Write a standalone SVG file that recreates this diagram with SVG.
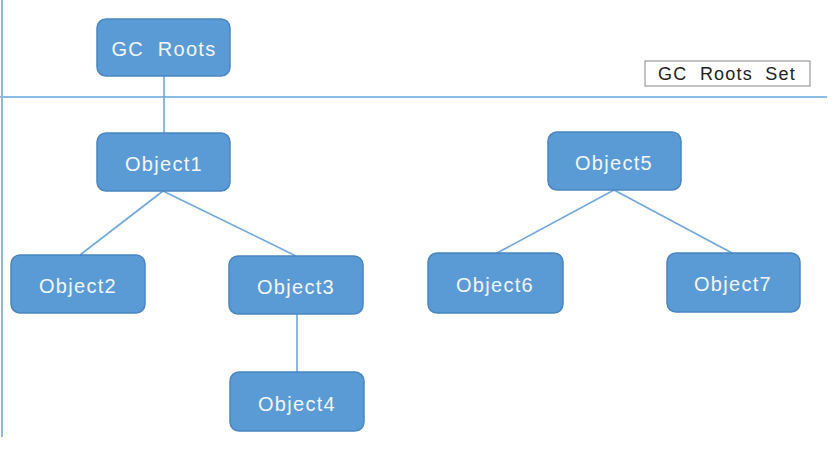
<svg xmlns="http://www.w3.org/2000/svg" width="834" height="455" viewBox="0 0 834 455">
<style>
.node rect{fill:#5b9bd5;stroke:#4a86bf;stroke-width:1.5}
.node text{fill:#f2f6fb;font-family:"Liberation Sans",Arial,sans-serif;font-size:20px;letter-spacing:1.3px;text-anchor:middle}
.conn line{stroke:#6fa8dc;stroke-width:1.6}
.frame{stroke:#8bbbe4;stroke-width:2}
</style>
<rect width="834" height="455" fill="#ffffff"/>
<line class="frame" x1="2" y1="0" x2="2" y2="437"/>
<line class="frame" x1="0" y1="97" x2="827" y2="97"/>
<g id="legend">
<rect x="645" y="61" width="165" height="25" fill="#ffffff" stroke="#9a9a9a" stroke-width="1.2"/>
<text x="727" y="80" font-family="Liberation Sans,Arial,sans-serif" font-size="18" letter-spacing="1.2" fill="#222" text-anchor="middle" xml:space="preserve">GC  Roots  Set</text>
</g>
<g class="conn" id="connectors">
<line x1="164" y1="76" x2="164" y2="133"/>
<line x1="163" y1="191" x2="80" y2="255"/>
<line x1="163" y1="191" x2="296" y2="256"/>
<line x1="297" y1="314" x2="297" y2="372"/>
<line x1="614" y1="190" x2="497" y2="253"/>
<line x1="614" y1="190" x2="732" y2="253"/>
</g>
<g class="node" id="gcroots"><rect x="97" y="19" width="133" height="57" rx="9"/><text x="164" y="56" xml:space="preserve">GC  Roots</text></g>
<g class="node" id="object1"><rect x="97" y="133" width="133" height="58" rx="9"/><text x="164" y="171">Object1</text></g>
<g class="node" id="object2"><rect x="11" y="255" width="134" height="58" rx="9"/><text x="78" y="293">Object2</text></g>
<g class="node" id="object3"><rect x="229" y="256" width="134" height="58" rx="9"/><text x="296" y="294">Object3</text></g>
<g class="node" id="object4"><rect x="230" y="372" width="134" height="59" rx="9"/><text x="297" y="411">Object4</text></g>
<g class="node" id="object5"><rect x="548" y="132" width="133" height="58" rx="9"/><text x="614" y="170">Object5</text></g>
<g class="node" id="object6"><rect x="428" y="253" width="135" height="60" rx="9"/><text x="495" y="292">Object6</text></g>
<g class="node" id="object7"><rect x="667" y="253" width="133" height="59" rx="9"/><text x="733" y="291">Object7</text></g>
</svg>
